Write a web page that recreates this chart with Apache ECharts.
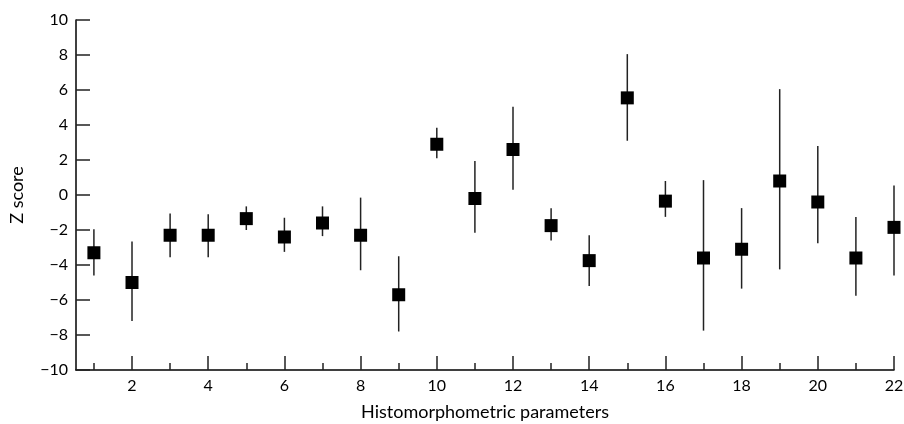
<!DOCTYPE html>
<html>
<head>
<meta charset="utf-8">
<script src="https://cdn.jsdelivr.net/npm/echarts@6/dist/echarts.min.js"></script>
<style>
html, body { margin: 0; padding: 0; background: #fff; }
#chart { width: 904px; height: 424px; }
</style>
</head>
<body>
<div id="chart"></div>
<script>
// histomorphometric parameter numbers
var params = [1, 2, 3, 4, 5, 6, 7, 8, 9, 10, 11, 12, 13, 14, 15, 16, 17, 18, 19, 20, 21, 22];
// mean Z score and error bar ends
var zMean  = [-3.3, -5.0, -2.3, -2.3, -1.35, -2.4, -1.6, -2.3, -5.7, 2.9, -0.2, 2.6, -1.75, -3.75, 5.55, -0.35, -3.6, -3.1, 0.8, -0.4, -3.6, -1.85];
var zUpper = [-1.95, -2.65, -1.05, -1.1, -0.65, -1.3, -0.65, -0.15, -3.5, 3.85, 1.95, 5.05, -0.75, -2.3, 8.05, 0.8, 0.85, -0.75, 6.05, 2.8, -1.25, 0.55];
var zLower = [-4.6, -7.2, -3.55, -3.55, -2.0, -3.25, -2.35, -4.3, -7.8, 2.1, -2.15, 0.3, -2.6, -5.2, 3.1, -1.25, -7.75, -5.35, -4.25, -2.75, -5.75, -4.6];
var yTicks = [-10, -8, -6, -4, -2, 0, 2, 4, 6, 8, 10];
var xLabels = [2, 4, 6, 8, 10, 12, 14, 16, 18, 20, 22];

var font = 'Lato';

var points = [], bars = [];
for (var i = 0; i < params.length; i++) {
	points.push([params[i], zMean[i]]);
	bars.push([params[i], zLower[i], zUpper[i]]);
}

var chart = echarts.init(document.getElementById('chart'));
var option = {
	animation: false,
	backgroundColor: '#fff',
	grid: { left: 76, right: 10, top: 20, bottom: 54, outerBoundsMode: 'none', containLabel: false },
	xAxis: [{
		type: 'value',
		position: 'bottom',
		min: 0.53,
		max: 22,
		splitLine: { show: false },
		axisLine: { onZero: false, lineStyle: { color: '#000', width: 1.5 } },
		axisTick: { inside: true, length: 7, customValues: params, lineStyle: { color: '#222', width: 1.5 } },
		axisLabel: { show: false },
		name: 'Histomorphometric parameters',
		nameLocation: 'middle',
		nameGap: 33,
		nameTextStyle: { color: '#000', fontSize: 18, fontFamily: font }
	}, {
		type: 'value',
		position: 'bottom',
		min: 0.53,
		max: 22,
		splitLine: { show: false },
		axisLine: { show: false, onZero: false },
		axisTick: { inside: true, length: 14, customValues: xLabels, lineStyle: { color: '#222', width: 1.5 } },
		axisLabel: { customValues: xLabels, color: '#000', fontSize: 16, fontFamily: font, margin: 8 }
	}],
	yAxis: {
		type: 'value',
		min: -10,
		max: 10,
		interval: 2,
		data: yTicks,
		splitLine: { show: false },
		axisLine: { show: true, lineStyle: { color: '#000', width: 1.5 } },
		axisTick: { show: true, inside: true, length: 14, lineStyle: { color: '#222', width: 1.5 } },
		axisLabel: {
			color: '#000', fontSize: 16, fontFamily: font, margin: 8,
			formatter: function(v) { return v < 0 ? '\u2212' + Math.abs(v) : String(v); }
		},
		name: 'Z score',
		nameLocation: 'middle',
		nameGap: 50,
		nameRotate: 90,
		nameTextStyle: { color: '#000', fontSize: 18, fontFamily: font }
	},
	series: [{
		type: 'custom',
		xAxisIndex: 0,
		data: bars,
		z: 1,
		renderItem: function(params, api) {
			var top = api.coord([api.value(0), api.value(2)]);
			var bottom = api.coord([api.value(0), api.value(1)]);
			return {
				type: 'line',
				shape: { x1: top[0], y1: top[1], x2: bottom[0], y2: bottom[1] },
				style: { stroke: '#222', lineWidth: 1.5 }
			};
		}
	}, {
		type: 'scatter',
		xAxisIndex: 0,
		data: points,
		symbol: 'rect',
		symbolSize: 13,
		z: 2,
		itemStyle: { color: '#000', opacity: 1 }
	}]
};
chart.setOption(option);
</script>
</body>
</html>
